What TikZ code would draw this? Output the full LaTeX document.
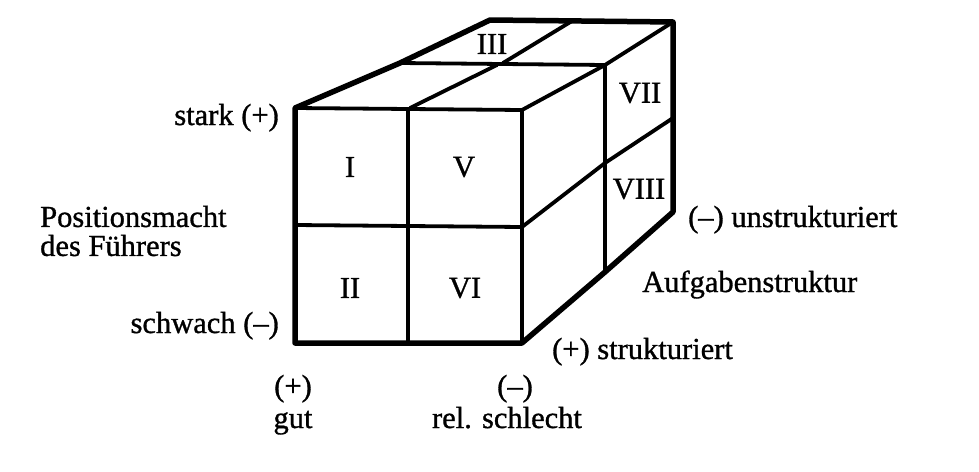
\documentclass[tikz,border=0pt]{standalone}
\usepackage{fontspec}
\setmainfont{Liberation Serif}[FakeBold=1]
\usetikzlibrary{positioning}

\begin{document}
\begin{tikzpicture}[x=1pt,y=-1pt,
  every node/.style={inner sep=0pt,font=\fontsize{30.5}{29}\selectfont},
  rim/.style={line width=5.5pt,line join=round,line cap=round},
  seam/.style={line width=3.8pt,line join=round,line cap=round}]
  \useasboundingbox (0,0) rectangle (979,471);
  % corners of the block
  \coordinate (fa) at (295,108);
  \coordinate (fb) at (522,110);
  \coordinate (fc) at (522,343);
  \coordinate (fd) at (295,343);
  \coordinate (ma) at (400,63);
  \coordinate (mb) at (605,65);
  \coordinate (mc) at (605,272);
  \coordinate (ba) at (490,20);
  \coordinate (bb) at (673,22);
  \coordinate (bc) at (673,212);

  % inner seams
  \draw[seam] (fa) -- (fb) -- (fc);
  \draw[seam] (295,225) -- (522,227) -- (605,163) -- (673,118);
  \draw[seam] (408,110) -- (408,343);
  \draw[seam] (410,108) -- (497,65);
  \draw[seam] (503,63) -- (572,21);
  \draw[seam] (ma) -- (mb) -- (mc);
  \draw[seam] (fb) -- (mb) -- (bb);
  % outline
  \draw[rim] (fd) -- (fa) -- (ma) -- (ba) -- (bb) -- (bc) -- (mc) -- (fc) -- cycle;

  \foreach \lab/\x/\y in {I/350/167, V/464/167, II/350/288, VI/465/288, III/492/44, VII/640/93, VIII/639/189}
    \node (oct\lab) at (\x,\y) {\lab};

  \node[anchor=base east] (stark) at (279,125) {stark (+)};
  \node[anchor=base east] (schwach) at (279,333) {schwach (--)};
  \node[anchor=west,align=left] (macht) at (40,231) {Positionsmacht\\des Führers};
  \node[anchor=base west] (unstr) at (688,227) {(--) unstrukturiert};
  \node[anchor=base west] (aufg) at (642,292) {Aufgabenstruktur};
  \node[anchor=base west] (str) at (552,359) {(+) strukturiert};
  \node[anchor=base] (plus) at (293,396) {(+)};
  \node[anchor=base] (gut) at (293,428) {gut};
  \node[anchor=base] (minus) at (515,396) {(--)};
  \node[anchor=base] (schlecht) at (507,428) {rel. schlecht};
\end{tikzpicture}
\end{document}
